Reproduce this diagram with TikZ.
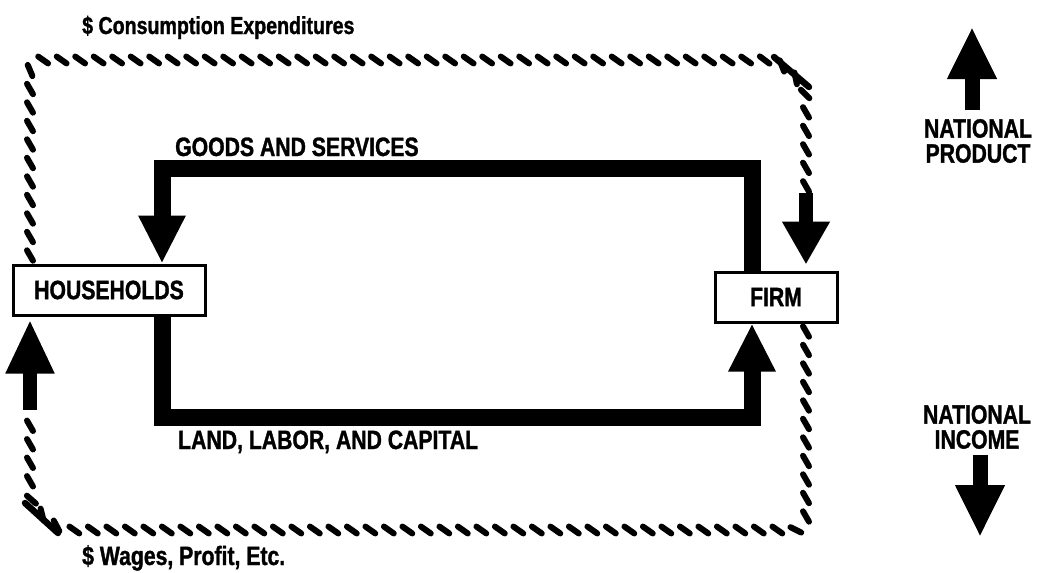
\documentclass[tikz,border=0pt]{standalone}
\usepackage{fontspec}
\setmainfont{Liberation Sans}[FakeStretch=0.8, FakeBold=1.2]
\usetikzlibrary{arrows.meta,decorations.markings,calc}
\newcommand\ropemark{%
  \pgfgettransformentries{\rpa}{\rpb}{\rpc}{\rpd}{\rpe}{\rpf}%
  \pgfmathsetmacro\rpang{abs(\rpa)>0.7 ? -35 : 30}%
  \draw[line width=6pt,line cap=round] (\rpang:-6pt) -- (\rpang:6pt);}
\tikzset{
  box/.style={draw, line width=3pt, fill=white, minimum height=50pt, inner sep=0pt,
    font=\fontsize{26.5}{26.5}\selectfont\bfseries},
  lbl/.style={inner sep=0pt, font=\fontsize{26.5}{25}\selectfont\bfseries},
  flow/.style={line width=17pt, line join=miter, -{Triangle[width=44pt,length=48pt]}},
  bigarrow/.style={line width=15pt, -{Triangle[width=46pt,length=52pt]}},
  rope/.style 2 args={decorate, decoration={markings,
     mark=between positions 8pt and -#1 step 18.5pt with {\ropemark},
     mark=at position 1 with {\draw[line width=14pt,-{Triangle[width=45pt,length=#2]}] (-#1,0) -- (0,0);}}},
  chamfer/.style={line width=6.5pt, line cap=round},
}
\begin{document}
\begin{tikzpicture}[x=1pt,y=1pt]
\useasboundingbox (0,0) rectangle (1037,-573);
% nodes
\node[box, minimum width=192pt] (hh) at (109,-290) {HOUSEHOLDS};
\node[box, minimum width=122pt] (firm) at (776,-297) {FIRM};
% helper coordinates
\coordinate (L) at (30,0);
\coordinate (R) at (806,0);
\coordinate (T) at (0,-60);
\coordinate (B) at (0,-530);
\coordinate (GL) at (162,0);
\coordinate (GR) at (752,0);
\coordinate (GT) at (0,-168);
\coordinate (GB) at (0,-417);
% money flows (rope lines)
\path[rope={72pt}{43pt}, rounded corners=12pt] (hh.north -| L) -- (L |- T)
  -- ($(R |- T)+(-30,0)$) -- ($(R |- T)+(0,-28)$) -- ($(firm.north -| R)+(0,6)$);
\draw[chamfer] ($(R |- T)+(-32,3)$) -- ($(R |- T)+(3,-27)$);
\path[rope={90pt}{54pt}, rounded corners=12pt] (firm.south -| R) -- (R |- B)
  -- ($(L |- B)+(30,0)$) -- ($(L |- B)+(0,26)$) -- ($(hh.south -| L)+(0,-3)$);
\draw[chamfer] ($(L |- B)+(28,-3)$) -- ($(L |- B)+(-5,27)$);
% real flows
\draw[flow] (firm.north -| GR) -- (GR |- GT) -- (GL |- GT) -- (hh.north -| GL);
\draw[flow] (hh.south -| GL) -- (GL |- GB) -- (GR |- GB) -- (firm.south -| GR);
% labels
\node[lbl, anchor=base west, font=\fontsize{24.5}{24}\selectfont\bfseries] (ce) at (82,-34) {\$ Consumption Expenditures};
\node[lbl, anchor=base west, font=\fontsize{26.5}{26}\selectfont\bfseries] (ws) at (82,-565) {\$ Wages, Profit, Etc.};
\node[lbl, anchor=base west] (gs) at (175,-156) {GOODS AND SERVICES};
\node[lbl, anchor=base west] (llc) at (178,-449) {LAND, LABOR, AND CAPITAL};
\node[lbl, align=center] (np) at (978,-141) {NATIONAL\\PRODUCT};
\node[lbl, align=center] (ni) at (977,-427) {NATIONAL\\INCOME};
% national product / income arrows
\coordinate (npA) at (972,-110);
\coordinate (npB) at (972,-27);
\draw[bigarrow] (npA) -- (npB);
\coordinate (niA) at (980,-455);
\coordinate (niB) at (980,-537);
\draw[bigarrow] (niA) -- (niB);
\end{tikzpicture}
\end{document}
